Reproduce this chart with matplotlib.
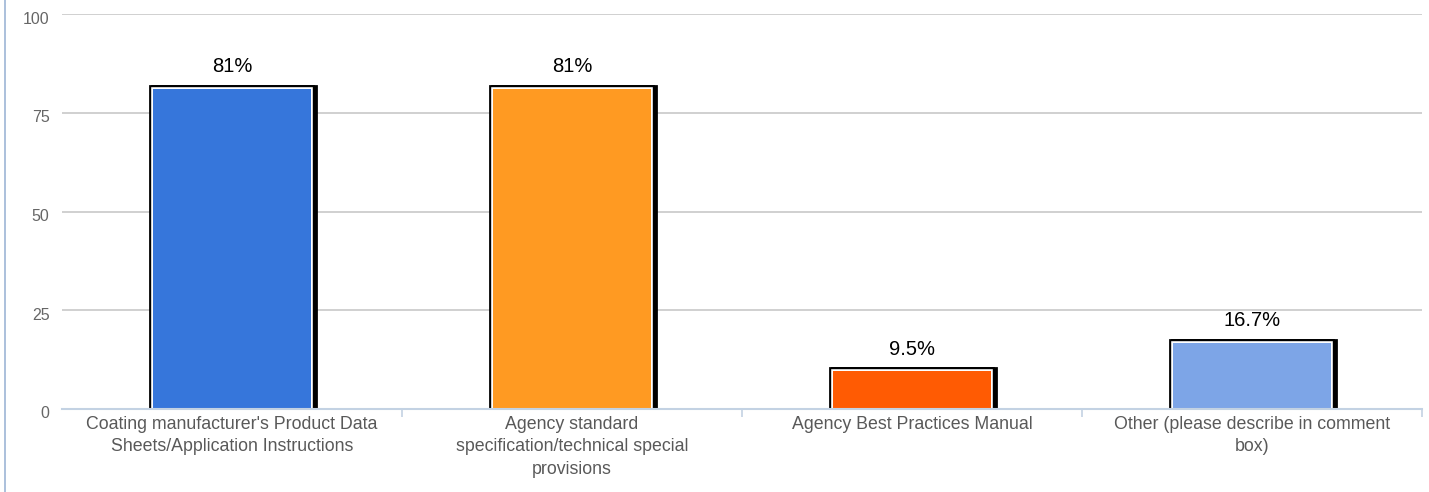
import numpy as np
import matplotlib
import matplotlib.pyplot as plt
from matplotlib import patheffects
from matplotlib.lines import Line2D
from matplotlib.transforms import ScaledTranslation

matplotlib.use('Agg')
plt.rcParams['font.family'] = ['Liberation Sans', 'DejaVu Sans']

# survey answers, percentage of respondents
categories = [
    "Coating manufacturer's Product Data\nSheets/Application Instructions",
    "Agency standard\nspecification/technical special\nprovisions",
    "Agency Best Practices Manual",
    "Other (please describe in comment\nbox)",
]
values = [81, 81, 9.5, 16.7]
value_labels = ["81%", "81%", "9.5%", "16.7%"]
bar_colors = ["#3676DB", "#FF9A22", "#FF5B03", "#7DA5E7"]
y_ticks = [0, 25, 50, 75, 100]

axis_color = "#C3D2E3"
grid_color = "#C8C8C8"

fig = plt.figure(figsize=(14.29, 4.92), dpi=100)
ax = fig.add_axes((62 / 1429, 1 - 409 / 492, 1360 / 1429, 395 / 492))

x = np.arange(len(categories))
bars = ax.bar(x, values, width=0.466, color=bar_colors, edgecolor="none",
              linewidth=0, zorder=3)
# black frame with a drop shadow on the right, white inner rim
for bar in bars:
    bar.set_path_effects([
        patheffects.Stroke(offset=(1.7, 0), linewidth=5.6, foreground="black"),
        patheffects.Stroke(linewidth=5.6, foreground="black"),
        patheffects.Stroke(linewidth=2.6, foreground="white"),
        patheffects.Normal(),
    ])

for xi, v, lab in zip(x, values, value_labels):
    ax.annotate(lab, (xi, v), xytext=(0, 12.2), textcoords="offset points",
                ha="center", va="baseline", fontsize=14.5, color="black")

ax.set_xlim(-0.5, len(categories) - 0.5)
ax.set_ylim(0, 100)
ax.set_yticks(y_ticks)
ax.set_yticklabels([str(t) for t in y_ticks])
ax.tick_params(axis="y", length=0, pad=9, labelcolor="#666666", labelsize=11.5)
shift = ScaledTranslation(0, -0.035, fig.dpi_scale_trans)
for lbl in ax.get_yticklabels():
    lbl.set_transform(lbl.get_transform() + shift)

ax.set_xticks(x)
ax.set_xticklabels(categories, linespacing=1.42)
ax.tick_params(axis="x", length=0, pad=5, labelcolor="#595959", labelsize=12.8)
ax.set_xticks(np.arange(len(categories)) + 0.5, minor=True)
ax.tick_params(axis="x", which="minor", length=6, color=axis_color, width=1.2)

ax.grid(axis="y", color=grid_color, linewidth=1.2, zorder=0)
for side in ("left", "right", "top"):
    ax.spines[side].set_visible(False)
ax.spines["bottom"].set_color(axis_color)
ax.spines["bottom"].set_linewidth(1.5)
ax.spines["bottom"].set_zorder(4)

# thin frame line on the left edge of the panel
fig.add_artist(Line2D([5 / 1429, 5 / 1429], [0, 1], color="#9DB5D6", linewidth=1.2))

fig.savefig("out.png", dpi=100)
plt.close(fig)
